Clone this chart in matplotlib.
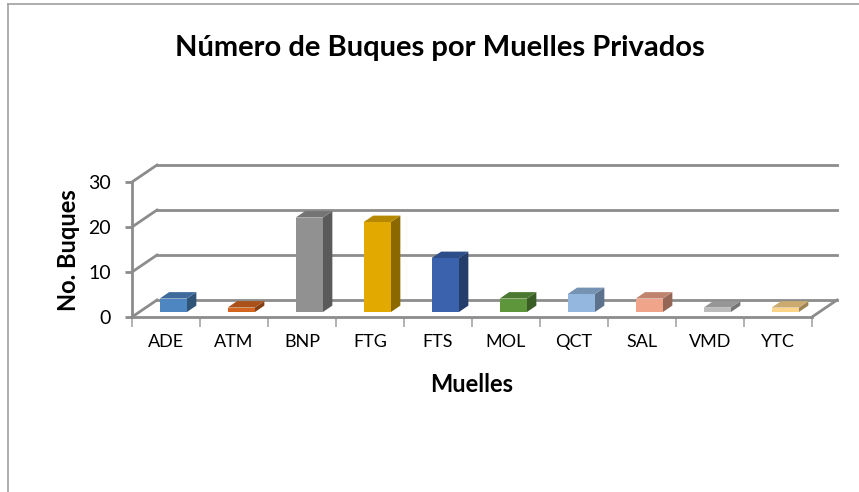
import numpy as np
import matplotlib.pyplot as plt
from matplotlib.patches import Polygon
from matplotlib.lines import Line2D

plt.rcParams['font.family'] = ['Lato', 'DejaVu Sans']

# data
muelles = ['ADE', 'ATM', 'BNP', 'FTG', 'FTS', 'MOL', 'QCT', 'SAL', 'VMD', 'YTC']
buques = [3, 1, 21, 20, 12, 3, 4, 3, 1, 1]
bar_colors = ['#4e86c2', '#d4651f', '#919191', '#e2aa00', '#3a62ad',
              '#5e963c', '#94b7e0', '#f0a58a', '#bcbcbc', '#fdd589']
y_ticks = [0, 10, 20, 30]

W, H = 859, 492
fig = plt.figure(figsize=(W / 100, H / 100), dpi=100)
fig.patch.set_facecolor('white')

# front plane of the 3D box in pixel coordinates
left, right, bottom, top = 132, 812, 317, 182
ax = fig.add_axes([left / W, 1 - bottom / H, (right - left) / W, (bottom - top) / H])
ax.set_xlim(-0.5, len(muelles) - 0.5)
ax.set_ylim(0, 30)
ax.patch.set_alpha(0)

# depth of the box expressed in data units
DX = 25 / 68
DY = 17 / 4.5
grid_col = '#8c8c8c'

# back wall gridlines and left wall diagonals
for v in y_ticks:
    ax.add_line(Line2D([-0.5 + DX, len(muelles) - 0.5 + DX], [v + DY, v + DY],
                       color=grid_col, lw=2, clip_on=False, zorder=1))
    ax.add_line(Line2D([-0.5, -0.5 + DX], [v, v + DY],
                       color=grid_col, lw=2, clip_on=False, zorder=1))
# right floor edge
ax.add_line(Line2D([len(muelles) - 0.5, len(muelles) - 0.5 + DX], [0, DY],
                   color=grid_col, lw=2, clip_on=False, zorder=1))


def shade(c, f):
    r, g, b = plt.matplotlib.colors.to_rgb(c)
    return (r * f, g * f, b * f)


# 3D bars
f0, f1 = 0.29, 0.67
w = 0.4
for i, (v, c) in enumerate(zip(buques, bar_colors)):
    x0 = i - w / 2 + f0 * DX
    x1 = i + w / 2 + f0 * DX
    y0 = f0 * DY
    ddx = (f1 - f0) * DX
    ddy = (f1 - f0) * DY
    front = [(x0, y0), (x1, y0), (x1, y0 + v), (x0, y0 + v)]
    topf = [(x0, y0 + v), (x1, y0 + v), (x1 + ddx, y0 + v + ddy), (x0 + ddx, y0 + v + ddy)]
    side = [(x1, y0), (x1 + ddx, y0 + ddy), (x1 + ddx, y0 + v + ddy), (x1, y0 + v)]
    ax.add_patch(Polygon(side, closed=True, facecolor=shade(c, 0.62), lw=0, zorder=3, clip_on=False))
    ax.add_patch(Polygon(topf, closed=True, facecolor=shade(c, 0.8), lw=0, zorder=3, clip_on=False))
    ax.add_patch(Polygon(front, closed=True, facecolor=c, lw=0, zorder=4, clip_on=False))

# axes styling
for s in ['top', 'right']:
    ax.spines[s].set_visible(False)
for s in ['left', 'bottom']:
    ax.spines[s].set_color(grid_col)
    ax.spines[s].set_linewidth(2)
    ax.spines[s].set_zorder(2)

ax.set_yticks(y_ticks)
ax.tick_params(axis='y', length=5, width=2, color=grid_col, labelsize=14, pad=10)
ax.set_xticks(np.arange(len(muelles)))
ax.set_xticklabels(muelles, fontsize=13)
ax.tick_params(axis='x', length=0, pad=12)
ax.set_xticks(np.arange(len(muelles) + 1) - 0.5, minor=True)
ax.tick_params(axis='x', which='minor', length=7, width=1.2, color='#a6a6a6')

fig.text(440 / W, 1 - 48 / H, 'Número de Buques por Muelles Privados',
         ha='center', va='center', fontsize=21, fontweight='bold')
fig.text(472 / W, 1 - 385 / H, 'Muelles', ha='center', va='center',
         fontsize=17, fontweight='bold')
fig.text(68 / W, 1 - 250 / H, 'No. Buques', ha='center', va='center',
         rotation=90, fontsize=17, fontweight='bold')

# chart border
fig.add_artist(Line2D([8 / W, 1], [1 - 4 / H, 1 - 4 / H], color='#a0a0a0', lw=1.2))
fig.add_artist(Line2D([8 / W, 8 / W], [0, 1 - 4 / H], color='#a0a0a0', lw=1.2))

fig.savefig('out.png', dpi=100)
